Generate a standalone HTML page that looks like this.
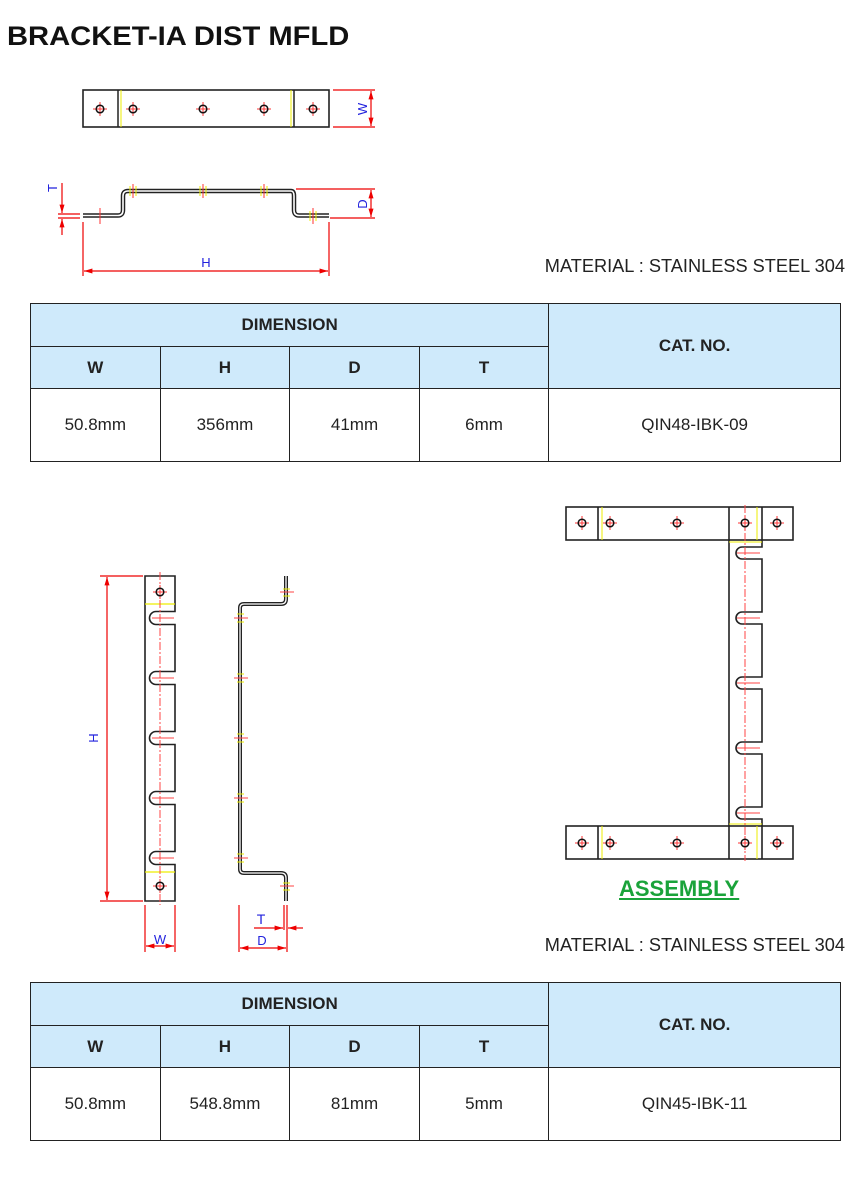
<!DOCTYPE html>
<html><head><meta charset="utf-8"><style>
body{margin:0;width:855px;height:1193px;background:#fff;position:relative;font-family:"Liberation Sans",sans-serif;overflow:hidden}
.t{position:absolute;white-space:nowrap}
table{position:absolute;left:30px;width:811px;border-collapse:collapse;font-family:"Liberation Sans",sans-serif}
td{border:1.5px solid #222;text-align:center;padding:0;font-size:17px;color:#222}
td.h{background:#cfeafb;font-weight:bold;font-size:17px}
</style></head><body>
<div class="t" style="left:7px;top:21px;font-size:27px;font-weight:bold;color:#111;transform:scaleX(1.08);transform-origin:0 0">BRACKET-IA DIST MFLD</div>
<div class="t" style="right:10px;top:256px;font-size:18.2px;color:#222">MATERIAL : STAINLESS STEEL 304</div>
<div class="t" style="right:10px;top:935px;font-size:18.2px;color:#222">MATERIAL : STAINLESS STEEL 304</div>
<div class="t" style="left:619px;top:876px;font-size:22px;font-weight:bold;color:#1aa33a;text-decoration:underline">ASSEMBLY</div>

<table style="top:303px;height:159px">
<tr style="height:43px"><td class="h" colspan="4">DIMENSION</td><td class="h" rowspan="2" style="width:292px">CAT. NO.</td></tr>
<tr style="height:42px"><td class="h" style="width:129px">W</td><td class="h" style="width:129px">H</td><td class="h" style="width:129px">D</td><td class="h" style="width:129px">T</td></tr>
<tr><td>50.8mm</td><td>356mm</td><td>41mm</td><td>6mm</td><td>QIN48-IBK-09</td></tr>
</table>
<table style="top:982px;height:159px">
<tr style="height:43px"><td class="h" colspan="4">DIMENSION</td><td class="h" rowspan="2" style="width:292px">CAT. NO.</td></tr>
<tr style="height:42px"><td class="h" style="width:129px">W</td><td class="h" style="width:129px">H</td><td class="h" style="width:129px">D</td><td class="h" style="width:129px">T</td></tr>
<tr><td>50.8mm</td><td>548.8mm</td><td>81mm</td><td>5mm</td><td>QIN45-IBK-11</td></tr>
</table>

<svg width="855" height="1193" style="position:absolute;left:0;top:0" xmlns="http://www.w3.org/2000/svg">
<defs>
<g id="hole"><path d="M-7 0H7M0 -7V7" stroke="#f33" stroke-width="1"/><circle r="3.8" fill="none" stroke="#111" stroke-width="1.5"/></g>
<marker id="a" viewBox="0 0 10 10" refX="10" refY="5" markerWidth="7" markerHeight="7" orient="auto-start-reverse"><path d="M0 2L10 5L0 8z" fill="#e00"/></marker>
</defs>
<rect x="83" y="90" width="246" height="37" fill="none" stroke="#222" stroke-width="1.6"/>
<path d="M118 90V127M294 90V127" stroke="#222" stroke-width="1.5"/>
<path d="M121 90V127M291 90V127" stroke="#ee0" stroke-width="1"/>
<use href="#hole" x="100" y="109"/><use href="#hole" x="133" y="109"/><use href="#hole" x="203" y="109"/><use href="#hole" x="264" y="109"/><use href="#hole" x="313" y="109"/>
<g stroke="#e00" stroke-width="1.2" fill="none">
<path d="M333 90H375M333 127H375"/>
<path d="M371 91V126" marker-start="url(#a)" marker-end="url(#a)"/>
</g>
<text x="367" y="109" font-size="13" fill="#22d" transform="rotate(-90 367 109)" text-anchor="middle" font-family="Liberation Sans">W</text>
<path d="M83 215.5H118Q123 215.5 123 210V196Q123 191 128 191H291Q294 191 294 196V210Q294 215.5 299 215.5H329" fill="none" stroke="#222" stroke-width="4.5"/>
<path d="M83 215.5H118Q123 215.5 123 210V196Q123 191 128 191H291Q294 191 294 196V210Q294 215.5 299 215.5H329" fill="none" stroke="#fff" stroke-width="1.6"/>
<g stroke="#f33" stroke-width="1"><path d="M100 208V224M133 184V198M203 184V198M264 184V198M313 208V224"/></g>
<g stroke="#ee0" stroke-width="1"><path d="M130 186V196M136 186V196M200 186V196M206 186V196M261 186V196M267 186V196M310 211V221M316 211V221"/></g>
<g stroke="#e00" stroke-width="1.2" fill="none">
<path d="M296 189H375M330 218H375"/>
<path d="M371 190V217" marker-start="url(#a)" marker-end="url(#a)"/>
<path d="M58 214H80M58 218H80"/>
<path d="M62 183V213" marker-end="url(#a)"/><path d="M62 235V219" marker-end="url(#a)"/>
<path d="M83 222V276M329 222V276"/>
<path d="M84 271H328" marker-start="url(#a)" marker-end="url(#a)"/>
</g>
<text x="367" y="204" font-size="13" fill="#22d" transform="rotate(-90 367 204)" text-anchor="middle" font-family="Liberation Sans">D</text>
<text x="57" y="188" font-size="13" fill="#22d" transform="rotate(-90 57 188)" text-anchor="middle" font-family="Liberation Sans">T</text>
<text x="206" y="267" font-size="13" fill="#22d" text-anchor="middle" font-family="Liberation Sans">H</text>

<path d="M145 576H175V611.5H156A6.5 6.5 0 0 0 156 624.5H175V671.5H156A6.5 6.5 0 0 0 156 684.5H175V731.5H156A6.5 6.5 0 0 0 156 744.5H175V791.5H156A6.5 6.5 0 0 0 156 804.5H175V851.5H156A6.5 6.5 0 0 0 156 864.5H175V901H145Z" fill="none" stroke="#222" stroke-width="1.6"/>
<path d="M145 604H175M145 872H175" stroke="#ee0" stroke-width="1.2"/>
<path d="M160 572V905" stroke="#f44" stroke-width="1" stroke-dasharray="8 2 2 2"/>
<g stroke="#f44" stroke-width="1"><path d="M152 618H174M152 678H174M152 738H174M152 798H174M152 858H174"/></g>
<use href="#hole" x="160" y="592"/><use href="#hole" x="160" y="886"/>
<g stroke="#e00" stroke-width="1.2" fill="none">
<path d="M100 576H143M100 901H143"/>
<path d="M107 577V900" marker-start="url(#a)" marker-end="url(#a)"/>
<path d="M145 905V952M175 905V952"/>
<path d="M146 946H174" marker-start="url(#a)" marker-end="url(#a)"/>
</g>
<text x="98" y="738" font-size="13" fill="#22d" transform="rotate(-90 98 738)" text-anchor="middle" font-family="Liberation Sans">H</text>
<text x="160" y="944" font-size="13" fill="#22d" text-anchor="middle" font-family="Liberation Sans">W</text>

<path d="M286 576V599Q286 604 281 604H244Q240 604 240 608V869Q240 873 244 873H281Q286 873 286 878V901" fill="none" stroke="#222" stroke-width="4"/>
<path d="M286 576V599Q286 604 281 604H244Q240 604 240 608V869Q240 873 244 873H281Q286 873 286 878V901" fill="none" stroke="#fff" stroke-width="1.3"/>
<g stroke="#f44" stroke-width="1"><path d="M234 618H248M234 678H248M234 738H248M234 798H248M234 858H248M280 592H294M280 886H294"/></g>
<g stroke="#ee0" stroke-width="1"><path d="M237 614H244M237 622H244M237 674H244M237 682H244M237 734H244M237 742H244M237 794H244M237 802H244M237 854H244M237 862H244M283 589H290M283 596H290M283 883H290M283 890H290"/></g>
<g stroke="#e00" stroke-width="1.2" fill="none">
<path d="M239 905V952M287 905V952M284 905V930"/>
<path d="M254 928H283" marker-end="url(#a)"/><path d="M303 928H288" marker-end="url(#a)"/>
<path d="M240 948H286" marker-start="url(#a)" marker-end="url(#a)"/>
</g>
<text x="261" y="924" font-size="14" fill="#22d" text-anchor="middle" font-family="Liberation Sans">T</text>
<text x="262" y="945" font-size="13" fill="#22d" text-anchor="middle" font-family="Liberation Sans">D</text>

<g fill="none" stroke="#222" stroke-width="1.6">
<rect x="566" y="507" width="227" height="33"/>
<rect x="566" y="826" width="227" height="33"/>
<path d="M598 507V540M729 507V540M762 507V540M598 826V859M729 826V859M762 826V859"/>
<path d="M729 540V826M762 540V547H742A6 6 0 0 0 742 559H762V612H742A6 6 0 0 0 742 624H762V677H742A6 6 0 0 0 742 689H762V742H742A6 6 0 0 0 742 754H762V807H742A6 6 0 0 0 742 819H762V826"/>
</g>
<path d="M602 507V540M757 507V540M602 826V859M757 826V859M729 542H762M729 824H762" stroke="#ee0" stroke-width="1"/>
<path d="M745 505V861" stroke="#f44" stroke-width="1" stroke-dasharray="8 2 2 2"/>
<g stroke="#f44" stroke-width="1"><path d="M737 553H760M737 618H760M737 683H760M737 748H760M737 813H760"/></g>
<use href="#hole" x="582" y="523"/><use href="#hole" x="610" y="523"/><use href="#hole" x="677" y="523"/><use href="#hole" x="745" y="523"/><use href="#hole" x="777" y="523"/>
<use href="#hole" x="582" y="843"/><use href="#hole" x="610" y="843"/><use href="#hole" x="677" y="843"/><use href="#hole" x="745" y="843"/><use href="#hole" x="777" y="843"/>
</svg>
</body></html>
